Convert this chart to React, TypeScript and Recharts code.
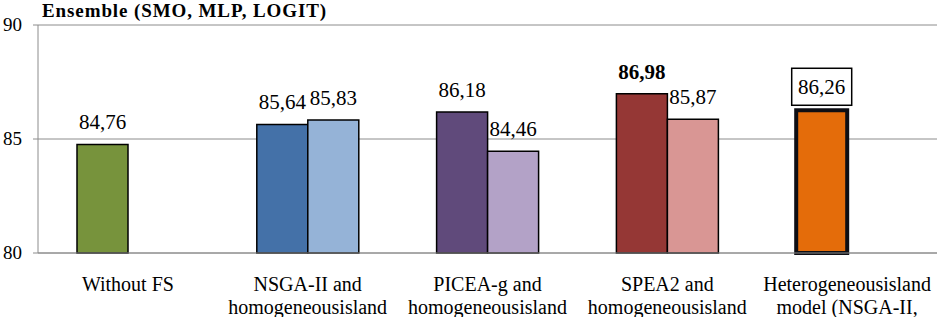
import React from "react";
import { BarChart, Bar, XAxis, YAxis, CartesianGrid, Cell, LabelList } from "recharts";

const categories = [
  ["Without FS"],
  ["NSGA-II and", "homogeneousisland"],
  ["PICEA-g and", "homogeneousisland"],
  ["SPEA2 and", "homogeneousisland"],
  ["Heterogeneousisland", "model (NSGA-II,"],
];
const seriesA = [84.76, 85.64, 86.18, 86.98, 86.26];
const seriesB = [null, 85.83, 84.46, 85.87, null];
const colorsA = ["#77933C", "#4471A8", "#604A7B", "#953735", "#E46C0A"];
const colorsB = ["#95B3D7", "#95B3D7", "#B3A2C7", "#D99694", "#D99694"];
const yTicks = [80, 85, 90];

const FONT = "Liberation Serif, DejaVu Serif, serif";

const data = categories.map((lines, i) => ({
  name: lines.join(" "),
  a: seriesA[i],
  b: seriesB[i],
}));

const fmt = (v: number) => v.toFixed(2).replace(".", ",");

function XTick({ x, y, payload, index }: any) {
  const lines = categories[index] || [payload.value];
  return (
    <text x={x} y={y} textAnchor="middle" style={{ fontFamily: FONT }} fontSize={20} fill="#000">
      {lines.map((l, i) => (
        <tspan key={i} x={x} dy={i === 0 ? 32 : 23}>
          {l}
        </tspan>
      ))}
    </text>
  );
}

function YTick({ y, payload }: any) {
  return (
    <text x={22} y={y + 6} textAnchor="end" style={{ fontFamily: FONT }} fontSize={19} fill="#000">
      {payload.value}
    </text>
  );
}

function labelFor(series: "a" | "b") {
  return (props: any) => {
    const { x, y, width, value, index } = props;
    if (value == null) return null;
    const cx = x + width / 2;
    const txt = fmt(value);
    if (series === "a" && index === 4) {
      return (
        <g>
          <rect x={cx - 30} y={y - 42} width={60} height={37} fill="#fff" stroke="#000" strokeWidth={1.5} />
          <text x={cx} y={y - 16} textAnchor="middle" style={{ fontFamily: FONT }} fontSize={21} fill="#000">
            {txt}
          </text>
        </g>
      );
    }
    const bold = series === "a" && index === 3;
    return (
      <text
        x={cx}
        y={y - 15}
        textAnchor="middle"
        style={{ fontFamily: FONT }}
        fontSize={21}
        fontWeight={bold ? "bold" : "normal"}
        fill="#000"
      >
        {txt}
      </text>
    );
  };
}

export default function App() {
  return (
    <div style={{ position: "absolute", left: 0, top: 0, width: 937, height: 317, background: "#fff" }}>
      <div
        style={{
          position: "absolute",
          left: 42,
          top: 0,
          lineHeight: "22px",
          fontFamily: FONT,
          fontWeight: "bold",
          fontSize: 19,
          letterSpacing: 0.9,
          whiteSpace: "nowrap",
        }}
      >
        Ensemble (SMO, MLP, LOGIT)
      </div>
      <BarChart
        width={937}
        height={317}
        data={data}
        margin={{ top: 25, right: 0, bottom: 0, left: 0 }}
        barGap={0}
        barSize={51}
      >
        <CartesianGrid horizontal vertical={false} stroke="#8C8C8C" />
        <XAxis
          dataKey="name"
          height={64}
          axisLine={{ stroke: "#8C8C8C" }}
          tickLine={false}
          tickMargin={0}
          interval={0}
          tick={<XTick />}
        />
        <YAxis
          domain={[80, 90]}
          ticks={yTicks}
          width={38}
          axisLine={{ stroke: "#8C8C8C" }}
          tickLine={{ stroke: "#8C8C8C" }}
          tickSize={5}
          tick={<YTick />}
        />
        <Bar dataKey="a" isAnimationActive={false}>
          {data.map((_, i) => (
            <Cell
              key={i}
              fill={colorsA[i]}
              stroke={i === 4 ? "#0E0E14" : "#000"}
              strokeWidth={i === 4 ? 4 : 1.5}
            />
          ))}
          <LabelList dataKey="a" content={labelFor("a")} />
        </Bar>
        <Bar dataKey="b" isAnimationActive={false}>
          {data.map((_, i) => (
            <Cell key={i} fill={colorsB[i]} stroke="#000" strokeWidth={1.5} />
          ))}
          <LabelList dataKey="b" content={labelFor("b")} />
        </Bar>
      </BarChart>
    </div>
  );
}
